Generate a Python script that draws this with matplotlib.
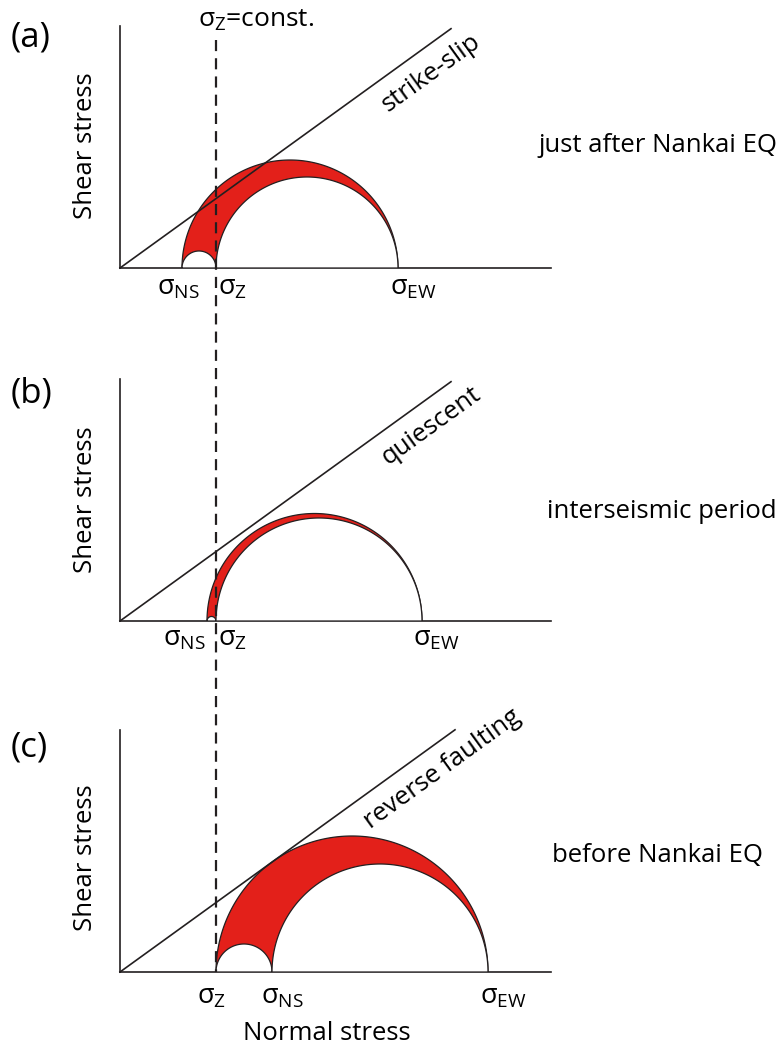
import numpy as np
import matplotlib
matplotlib.use("Agg")
import matplotlib.pyplot as plt
from matplotlib.lines import Line2D

plt.rcParams['font.family'] = ['Open Sans', 'DejaVu Sans']
plt.rcParams['mathtext.fontset'] = 'custom'
plt.rcParams['mathtext.rm'] = 'Open Sans'
plt.rcParams['mathtext.it'] = 'Open Sans:italic'

# ---- data (stress values along normal-stress axis, arbitrary units) ----
panel_tags = ["(a)", "(b)", "(c)"]
panel_states = ["just after Nankai EQ", "interseismic period", "before Nankai EQ"]
fault_labels = ["strike-slip", "quiescent", "reverse faulting"]
sigma_NS = [62, 87, 152]
sigma_Z = [96, 96, 96]
sigma_EW = [278, 302, 368]
friction = 0.723          # slope of failure envelope
envelope_end = [331, 331, 335]

# ---- layout ----
W, H = 780, 1047
fig = plt.figure(figsize=(W / 100, H / 100), dpi=100)
ink = '#231f20'
red = '#e3201a'
origin_y = [268, 621, 972]
ax_left, ax_w, ax_h = 120, 431, 242
tag_y = [37, 393, 748]
shear_y = [146, 500, 858]
state_xy = [(538, 146), (547, 512), (552, 855)]
label_x = [  # (NS, Z, EW) label left positions in data units
    (37, 98, 270),
    (43, 98, 293),
    (141, 77, 360),
]
label_base = [-26, -25, -31]
fault_pos = [(297, 24), (297, 24), (308, 25)]  # (x along axis, perpendicular offset)
FS = 18.5


def fx(px):
    return px / W


def fy(py):
    return 1 - py / H


def semicircle(ax, a, b, **kw):
    c, r = (a + b) / 2, (b - a) / 2
    t = np.linspace(0, np.pi, 300)
    x = c + r * np.cos(t)
    y = r * np.sin(t)
    return ax.fill(x, y, **kw)


axes = []
for i in range(3):
    ax = fig.add_axes([fx(ax_left), fy(origin_y[i]), fx(ax_w), ax_h / H])
    ax.set_xlim(0, ax_w)
    ax.set_ylim(0, ax_h)
    ax.patch.set_alpha(0)
    for s in ['top', 'right']:
        ax.spines[s].set_visible(False)
    for s in ['left', 'bottom']:
        ax.spines[s].set_color(ink)
        ax.spines[s].set_linewidth(1.2)
    ax.set_xticks([])
    ax.set_yticks([])

    lo = min(sigma_NS[i], sigma_Z[i])
    mid = max(sigma_NS[i], sigma_Z[i])
    hi = sigma_EW[i]
    semicircle(ax, lo, hi, facecolor=red, edgecolor=ink, lw=0.9, zorder=2)
    semicircle(ax, lo, mid, facecolor='white', edgecolor=ink, lw=0.9, zorder=3)
    semicircle(ax, mid, hi, facecolor='white', edgecolor=ink, lw=0.9, zorder=3)

    xe = np.array([0, envelope_end[i]])
    ax.plot(xe, friction * xe, color=ink, lw=1.2, zorder=4, clip_on=False)

    ang = np.degrees(np.arctan(friction))
    px, off = fault_pos[i]
    nx, ny = np.sin(np.radians(ang)), -np.cos(np.radians(ang))
    ax.text(px + off * nx, friction * px + off * ny, fault_labels[i],
            rotation=ang, rotation_mode='anchor', ha='center', va='center',
            fontsize=FS, color='black', transform_rotates_text=True)

    xs = label_x[i]
    ax.text(xs[0], label_base[i], "σ$_{\\mathregular{NS}}$", fontsize=19.5,
            ha='left', va='baseline', clip_on=False)
    ax.text(xs[1], label_base[i], "σ$_{\\mathregular{Z}}$", fontsize=19.5,
            ha='left', va='baseline', clip_on=False)
    ax.text(xs[2], label_base[i], "σ$_{\\mathregular{EW}}$", fontsize=19.5,
            ha='left', va='baseline', clip_on=False)

    fig.text(fx(11), fy(tag_y[i]), panel_tags[i], fontsize=25, ha='left', va='center')
    fig.text(fx(86), fy(shear_y[i]), "Shear stress", fontsize=FS, rotation=90,
             ha='center', va='center')
    sx, sy = state_xy[i]
    fig.text(fx(sx), fy(sy), panel_states[i], fontsize=FS, ha='left', va='center')
    axes.append(ax)

# dashed sigma_Z = const. line across all panels
xz_fig = fig.transFigure.inverted().transform(
    axes[2].transData.transform((sigma_Z[2], 0)))
fig.add_artist(Line2D([xz_fig[0], xz_fig[0]], [fy(40), xz_fig[1]],
                      transform=fig.transFigure, color=ink, lw=1.6,
                      linestyle=(0, (5, 3.2)), zorder=10))
fig.text(fx(198), fy(27), "σ$_{\\mathregular{Z}}$=const.", fontsize=19,
         ha='left', va='baseline')
fig.text(fx(327), fy(1040), "Normal stress", fontsize=FS, ha='center', va='baseline')

fig.savefig("out.png", dpi=100)
